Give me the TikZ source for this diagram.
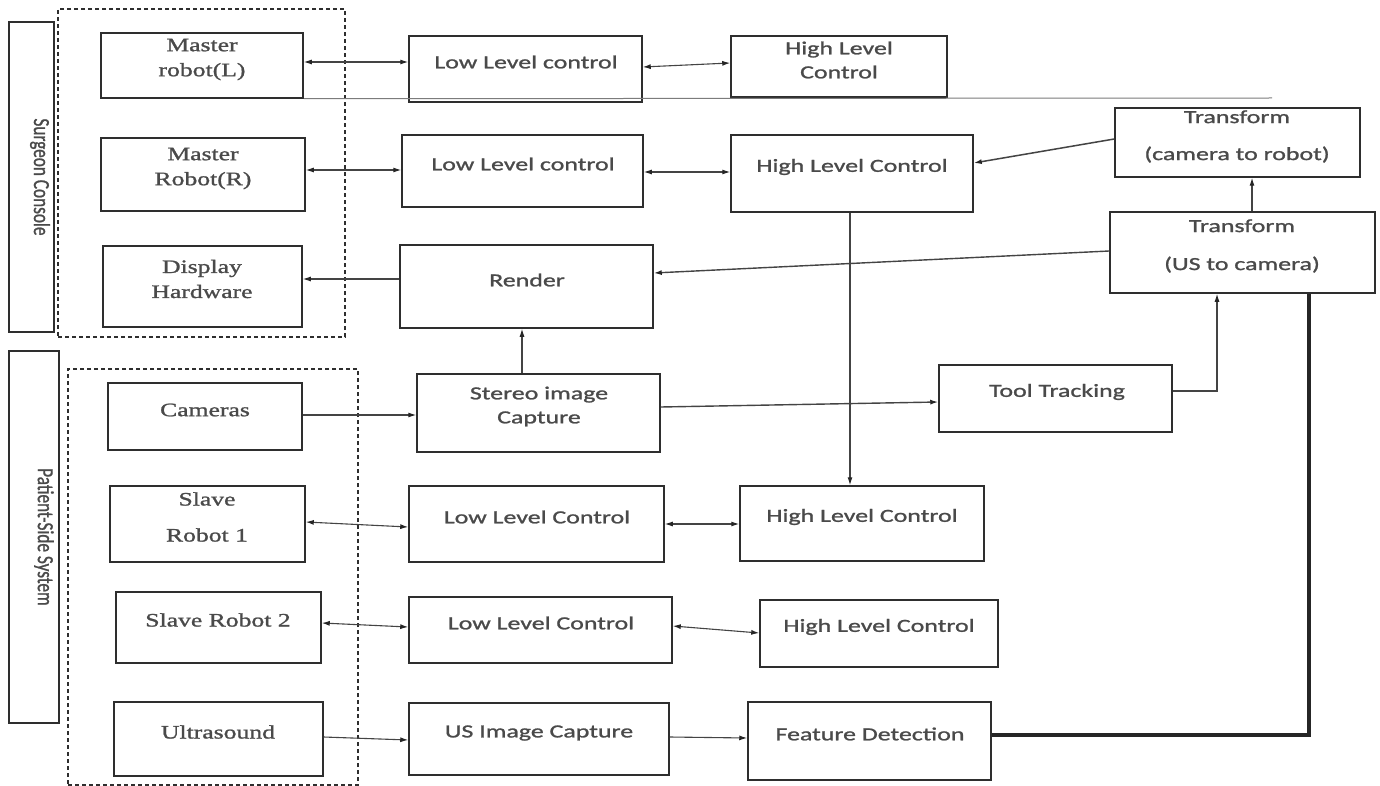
\documentclass[tikz,border=0pt]{standalone}
\usepackage{fontspec}
\usetikzlibrary{fit,arrows.meta}
\newfontfamily\serifst[FakeStretch=1.35,FakeBold=1.2]{Liberation Serif}
\newfontfamily\sansst[FakeStretch=1.4,FakeBold=1.2]{Carlito}
\newfontfamily\sidest[FakeStretch=0.75,FakeBold=1]{Carlito}
\definecolor{boxc}{HTML}{2E2E2E}
\definecolor{txtc}{HTML}{4A4A4A}
\definecolor{linec}{HTML}{444444}
\tikzset{
  box/.style={draw=boxc,line width=1.5pt,inner sep=0pt},
  dbox/.style={draw=boxc,line width=1.4pt,dash pattern=on 4pt off 3pt,inner sep=0pt},
  stxt/.style={text=txtc,align=center,inner sep=0pt,font=\serifst\fontsize{19}{25}\selectfont},
  ctxt/.style={text=txtc,align=center,inner sep=0pt,font=\sansst\fontsize{18.5}{24}\selectfont},
  sidetxt/.style={text=txtc,inner sep=0pt,rotate=-90,font=\sidest\fontsize{23}{26}\selectfont},
  conn/.style={draw=linec,line width=1.1pt},
  tip/.tip={Latex[length=8pt,width=5pt,color=black!85]},
  arr/.style={conn,-tip},
  dbl/.style={conn,tip-tip},
  thick line/.style={draw=black!85,line width=3.2pt}
}
\begin{document}
\begin{tikzpicture}[x=1pt,y=-1pt]
\useasboundingbox[fill=white] (0,0) rectangle (1380,786);
% side labels
\node[box,fit={(9,22) (54,332)}] (scb) {};
\node[sidetxt] (sct) at (40,177) {Surgeon Console};
\node[box,fit={(9,351) (59,723)}] (psb) {};
\node[sidetxt] (pst) at (44,537) {Patient-Side System};
% dashed groups
\node[dbox,fit={(58,9) (345,337)}] (sgrp) {};
\node[dbox,fit={(68,369) (358,785)}] (pgrp) {};
% left boxes
\node[box,fit={(101,33) (303,98)}] (mL) {};
\node[stxt] (mLt) at (202,59.5) {Master\\robot(L)};
\node[box,fit={(101,138) (305,211)}] (mR) {};
\node[stxt] (mRt) at (203,168.5) {Master\\Robot(R)};
\node[box,fit={(103,246) (302,327)}] (disp) {};
\node[stxt] (dispt) at (202,279) {Display\\Hardware};
\node[box,fit={(108,383) (302,450)}] (cams) {};
\node[stxt] (camst) at (205,410) {Cameras};
\node[box,fit={(110,486) (305,562)}] (s1) {};
\node[stxt] (s1t) at (207,517) {Slave\\[11pt]Robot 1};
\node[box,fit={(116,592) (321,663)}] (s2) {};
\node[stxt] (s2t) at (218,620) {Slave Robot 2};
\node[box,fit={(114,702) (323,776)}] (us) {};
\node[stxt] (ust) at (218,732) {Ultrasound};
% middle boxes
\node[box,fit={(409,36) (642,102)}] (llc1) {};
\node[ctxt] (llc1t) at (526,62) {Low Level control};
\node[box,fit={(731,36) (947,97)}] (hlc1) {};
\node[ctxt] (hlc1t) at (839,60) {High Level\\Control};
\node[box,fit={(402,135) (643,207)}] (llc2) {};
\node[ctxt] (llc2t) at (523,164) {Low Level control};
\node[box,fit={(731,135) (973,212)}] (hlc2) {};
\node[ctxt] (hlc2t) at (852,167) {High Level Control};
\node[box,fit={(400,245) (653,328)}] (render) {};
\node[ctxt] (rendert) at (527,280) {Render};
\node[box,fit={(417,374) (660,452)}] (stereo) {};
\node[ctxt] (stereot) at (539,406.5) {Stereo image\\Capture};
\node[box,fit={(939,365) (1172,432)}] (tool) {};
\node[ctxt] (toolt) at (1057,392) {Tool Tracking};
\node[box,fit={(1115,108) (1360,177)}] (tcr) {};
\node[ctxt] (tcrt) at (1237,136.5) {Transform\\[13pt](camera to robot)};
\node[box,fit={(1110,212) (1375,293)}] (tuc) {};
\node[ctxt] (tuct) at (1242,246) {Transform\\[14pt](US to camera)};
\node[box,fit={(409,486) (664,562)}] (llc3) {};
\node[ctxt] (llc3t) at (537,517) {Low Level Control};
\node[box,fit={(740,486) (984,561)}] (hs1) {};
\node[ctxt] (hs1t) at (862,517) {High Level Control};
\node[box,fit={(409,597) (672,663)}] (llc4) {};
\node[ctxt] (llc4t) at (541,623) {Low Level Control};
\node[box,fit={(760,600) (998,667)}] (hs2) {};
\node[ctxt] (hs2t) at (879,627) {High Level Control};
\node[box,fit={(409,703) (669,775)}] (usc) {};
\node[ctxt] (usct) at (539,733) {US Image Capture};
\node[box,fit={(748,702) (991,780)}] (fd) {};
\node[ctxt] (fdt) at (870,734) {Feature Detection};
% long separator line
\coordinate (sepend) at (1272,98);
\draw[conn,draw=linec!70,line width=1pt] (mL.south east) -- (sepend);
% connectors
\draw[dbl] (mL.east |- 0,62) -- (llc1.west |- 0,62);
\draw[dbl] (llc1.east |- 0,67) -- (hlc1.west |- 0,63);
\draw[dbl] (mR.east |- 0,170) -- (llc2.west |- 0,170);
\draw[dbl] (llc2.east |- 0,172) -- (hlc2.west |- 0,172);
\draw[arr,line width=1.5pt] (tcr.west |- 0,139) -- (hlc2.east |- 0,163);
\draw[arr] (tuc.north -| 1252,0) -- (tcr.south -| 1252,0);
\draw[arr,line width=1.4pt] (tuc.west |- 0,251) -- (render.east |- 0,273);
\draw[arr] (render.west |- 0,279) -- (disp.east |- 0,279);
\draw[arr] (hlc2.south -| 850,0) -- (hs1.north -| 850,0);
\draw[arr] (stereo.north -| 522,0) -- (render.south -| 522,0);
\draw[arr] (cams.east |- 0,415) -- (stereo.west |- 0,415);
\draw[arr,line width=1.4pt] (stereo.east |- 0,407) -- (tool.west |- 0,402);
\draw[arr] (tool.east |- 0,391) -- (1217,391) -- (tuc.south -| 1217,0);
\draw[dbl] (s1.east |- 0,522) -- (llc3.west |- 0,527);
\draw[dbl] (llc3.east |- 0,524) -- (hs1.west |- 0,524);
\draw[dbl] (s2.east |- 0,623) -- (llc4.west |- 0,627);
\draw[dbl] (llc4.east |- 0,626) -- (hs2.west |- 0,633);
\draw[arr] (us.east |- 0,737) -- (usc.west |- 0,740);
\draw[arr] (usc.east |- 0,737) -- (fd.west |- 0,738);
\draw[thick line] (fd.east |- 0,735) -- (1309,735) -- (tuc.south -| 1309,0);
\end{tikzpicture}
\end{document}
